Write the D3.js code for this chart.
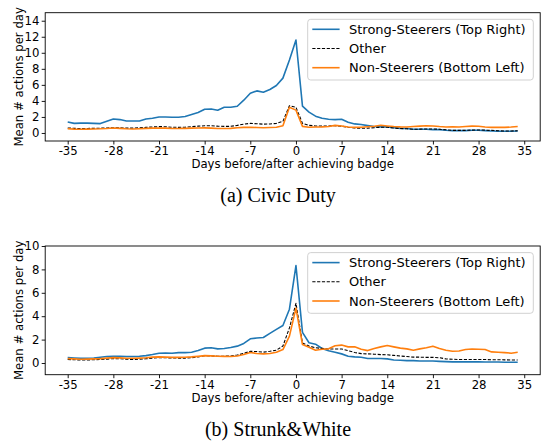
<!DOCTYPE html>
<html>
<head>
<meta charset="utf-8">
<script src="https://cdn.jsdelivr.net/npm/d3@7"></script>
<style>
  html, body { margin: 0; padding: 0; background: #fff; }
  svg { display: block; }
  text { font-family: "DejaVu Sans", sans-serif; }
  text.caption { font-family: "Liberation Serif", "DejaVu Serif", serif; }
</style>
</head>
<body>
<svg id="chart" width="549" height="441"></svg>
<script>
// ---------- DATA ----------
const days = d3.range(-35, 35); // -35 .. 34
const xTicks = [-35, -28, -21, -14, -7, 0, 7, 14, 21, 28, 35];
const yTicksA = [0, 2, 4, 6, 8, 10, 12, 14];
const yTicksB = [0, 2, 4, 6, 8, 10];
const seriesNames = ["Strong-Steerers (Top Right)", "Other", "Non-Steerers (Bottom Left)"];
const captions = ["(a) Civic Duty", "(b) Strunk&White"];
const xTitle = "Days before/after achieving badge";
const yTitle = "Mean # actions per day";

// (a) Civic Duty
const civicStrong = [
  1.37, 1.2, 1.23, 1.23, 1.2, 1.17, 1.46, 1.75, 1.67, 1.5, 1.5, 1.5, 1.75, 1.83, 2.0, 2.0, 1.96, 1.96, 2.05, 2.3,
  2.55, 2.96, 3.0, 2.84, 3.2, 3.2, 3.33, 4.09, 4.96, 5.25, 5.08, 5.42, 5.92, 6.84, 9.09, 11.59,
  3.34, 2.6, 2.1, 1.83, 1.71, 1.67, 1.71, 1.33, 1.13, 1.05, 0.92, 0.8, 0.76, 0.76, 0.67, 0.58, 0.55, 0.46,
  0.46, 0.46, 0.42, 0.42, 0.34, 0.3, 0.3, 0.3, 0.34, 0.34, 0.3, 0.25, 0.21, 0.21, 0.21, 0.25
];
const civicOther = [
  0.62, 0.58, 0.55, 0.56, 0.58, 0.6, 0.62, 0.65, 0.64, 0.6, 0.6, 0.65, 0.7, 0.75, 0.8, 0.78, 0.72, 0.7, 0.72, 0.78,
  0.85, 0.9, 0.9, 0.85, 0.82, 0.83, 0.95, 1.1, 1.2, 1.15, 1.1, 1.12, 1.2, 1.45, 3.4, 3.2,
  1.2, 0.95, 0.88, 0.87, 0.88, 0.9, 0.85, 0.72, 0.63, 0.58, 0.6, 0.66, 0.71, 0.72, 0.62, 0.56, 0.52, 0.46,
  0.48, 0.5, 0.5, 0.46, 0.4, 0.33, 0.33, 0.33, 0.36, 0.38, 0.35, 0.32, 0.28, 0.25, 0.25, 0.28
];
const civicNon = [
  0.52, 0.48, 0.46, 0.48, 0.5, 0.52, 0.56, 0.62, 0.58, 0.52, 0.5, 0.53, 0.57, 0.6, 0.63, 0.6, 0.55, 0.55, 0.57, 0.6,
  0.62, 0.64, 0.6, 0.55, 0.56, 0.58, 0.65, 0.7, 0.72, 0.68, 0.65, 0.68, 0.72, 0.9, 3.2, 2.85,
  0.82, 0.72, 0.75, 0.76, 0.8, 0.95, 0.88, 0.75, 0.7, 0.72, 0.78, 0.84, 0.96, 0.88, 0.8, 0.76, 0.75, 0.8,
  0.85, 0.9, 0.88, 0.8, 0.75, 0.76, 0.75, 0.8, 0.86, 0.84, 0.75, 0.7, 0.7, 0.7, 0.74, 0.8
];

// (b) Strunk&White
const strunkStrong = [
  0.46, 0.43, 0.4, 0.4, 0.43, 0.49, 0.55, 0.58, 0.58, 0.55, 0.55, 0.58, 0.63, 0.72, 0.83, 0.86, 0.83, 0.89, 0.89, 0.92,
  1.06, 1.27, 1.3, 1.21, 1.24, 1.33, 1.44, 1.67, 2.07, 2.13, 2.18, 2.53, 2.87, 3.21, 4.6, 8.33,
  2.62, 1.73, 1.61, 1.24, 1.04, 0.92, 0.78, 0.58, 0.52, 0.49, 0.38, 0.38, 0.38, 0.35, 0.26, 0.23, 0.2, 0.2,
  0.17, 0.17, 0.17, 0.14, 0.12, 0.1, 0.1, 0.1, 0.1, 0.1, 0.09, 0.09, 0.08, 0.07, 0.07, 0.06
];
const strunkOther = [
  0.3, 0.28, 0.26, 0.26, 0.28, 0.3, 0.33, 0.38, 0.36, 0.33, 0.3, 0.33, 0.36, 0.42, 0.46, 0.45, 0.43, 0.42, 0.42, 0.45,
  0.52, 0.62, 0.6, 0.58, 0.58, 0.6, 0.68, 0.82, 1.0, 0.98, 0.93, 1.0, 1.1, 1.45, 3.0, 5.1,
  1.7, 1.45, 1.3, 1.25, 1.2, 1.2, 1.2, 1.05, 0.9, 0.8, 0.78, 0.75, 0.72, 0.7, 0.65, 0.6, 0.55, 0.5,
  0.5, 0.48, 0.48, 0.45, 0.35, 0.32, 0.3, 0.3, 0.3, 0.3, 0.3, 0.28, 0.28, 0.27, 0.26, 0.25
];
const strunkNon = [
  0.37, 0.35, 0.32, 0.33, 0.35, 0.37, 0.42, 0.46, 0.44, 0.41, 0.4, 0.42, 0.45, 0.5, 0.52, 0.5, 0.48, 0.48, 0.49, 0.52,
  0.57, 0.63, 0.61, 0.58, 0.57, 0.55, 0.6, 0.72, 0.9, 0.81, 0.78, 0.81, 0.92, 1.15, 2.3, 4.69,
  1.58, 1.35, 1.09, 1.18, 1.21, 1.47, 1.53, 1.38, 1.38, 1.18, 1.06, 1.24, 1.38, 1.5, 1.38, 1.27, 1.21, 1.09,
  1.21, 1.3, 1.44, 1.24, 1.09, 1.0, 1.02, 1.15, 1.2, 1.18, 1.15, 0.95, 0.92, 0.89, 0.84, 0.92
];

// ---------- DRAW ----------
const svg = d3.select("#chart");
const colors = ["#1f77b4", "#000000", "#ff7f0e"];
const dashes = [null, "3.2,1.6", null];
const widths = [1.6, 1.1, 1.6];

const panels = [
  { top: 12.7, bottom: 141, yDomain: [-1, 15], yTicks: yTicksA, data: [civicStrong, civicOther, civicNon], caption: captions[0], capY: 202 },
  { top: 246, bottom: 374.7, yDomain: [-1, 10], yTicks: yTicksB, data: [strunkStrong, strunkOther, strunkNon], caption: captions[1], capY: 436 }
];
const left = 45.2, right = 540.2;

panels.forEach(p => {
  const g = svg.append("g");
  const x = d3.scaleLinear().domain([-38.45, 37.45]).range([left, right]);
  const y = d3.scaleLinear().domain(p.yDomain).range([p.bottom, p.top]);

  // axes
  const xa = g.append("g").attr("transform", `translate(0,${p.bottom})`)
    .call(d3.axisBottom(x).tickValues(xTicks).tickFormat(d => d < 0 ? "-" + Math.abs(d) : d).tickSize(3.5).tickPadding(2.3));
  const ya = g.append("g").attr("transform", `translate(${left},0)`)
    .call(d3.axisLeft(y).tickValues(p.yTicks).tickSize(3.5).tickPadding(2.3));
  [xa, ya].forEach(a => {
    a.select(".domain").remove();
    a.selectAll("text").attr("font-size", 11.7).attr("fill", "#000");
    a.selectAll("line").attr("stroke", "#000").attr("stroke-width", 0.9);
  });

  // lines
  const clipId = "clip" + Math.round(p.top);
  g.append("clipPath").attr("id", clipId).append("rect")
    .attr("x", left).attr("y", p.top).attr("width", right - left).attr("height", p.bottom - p.top);
  const line = d3.line().x((d, i) => x(days[i])).y(d => y(d));
  p.data.forEach((s, k) => {
    g.append("path").datum(s)
      .attr("clip-path", `url(#${clipId})`)
      .attr("fill", "none")
      .attr("stroke", colors[k])
      .attr("stroke-width", widths[k])
      .attr("stroke-dasharray", dashes[k])
      .attr("stroke-linejoin", "round")
      .attr("d", line);
  });

  // frame
  g.append("rect").attr("x", left).attr("y", p.top)
    .attr("width", right - left).attr("height", p.bottom - p.top)
    .attr("fill", "none").attr("stroke", "#000").attr("stroke-width", 0.9);

  // axis titles
  g.append("text").attr("x", (left + right) / 2).attr("y", p.bottom + 27)
    .attr("text-anchor", "middle").attr("font-size", 11.7).text(xTitle);
  g.append("text")
    .attr("transform", `translate(19.3,${(p.top + p.bottom) / 2}) rotate(-90)`)
    .attr("text-anchor", "middle").attr("dominant-baseline", "central")
    .attr("font-size", 11.7).text(yTitle);

  // legend
  const lx = 307.7, ly = p.top + 6.6, lw = 225.6, lh = 60.7;
  const lg = g.append("g");
  lg.append("rect").attr("x", lx).attr("y", ly).attr("width", lw).attr("height", lh)
    .attr("rx", 3).attr("fill", "#fff").attr("fill-opacity", 0.8)
    .attr("stroke", "#cccccc").attr("stroke-width", 0.9);
  seriesNames.forEach((name, k) => {
    const ry = ly + 10 + k * 19.2;
    lg.append("line").attr("x1", 312.3).attr("x2", 339.6).attr("y1", ry).attr("y2", ry)
      .attr("stroke", colors[k]).attr("stroke-width", widths[k]).attr("stroke-dasharray", dashes[k]);
    lg.append("text").attr("x", 349).attr("y", ry).attr("dominant-baseline", "central")
      .attr("font-size", 13).text(name);
  });

  // caption
  svg.append("text").attr("class", "caption").attr("x", 278).attr("y", p.capY)
    .attr("text-anchor", "middle").attr("font-size", 20).text(p.caption);
});
</script>
</body>
</html>
